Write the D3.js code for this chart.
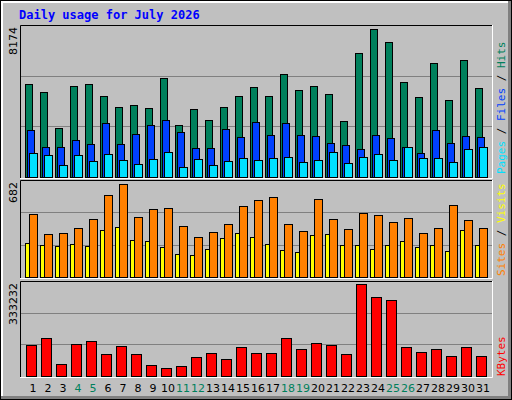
<!DOCTYPE html>
<html><head><meta charset="utf-8">
<script src="https://cdn.jsdelivr.net/npm/d3@7"></script>
<style>body{margin:0;background:#fff}svg{display:block}</style>
</head><body><svg id="c" width="512" height="400"></svg>
<script>
const days = d3.range(1, 32);
const weekends = [4,5,11,12,18,19,25,26];
const hits = [5018,4585,2636,4910,5018,4368,3773,3881,3719,5343,2799,3665,3069,3773,4368,4856,4368,5559,4693,4910,4477,3015,6642,7941,7237,5126,4314,6155,4152,6317,4801];
const files = [2528,1608,1608,1987,1770,2907,1770,2311,2799,3069,2420,1554,1554,2582,2149,2961,2257,2907,2257,2203,1824,1716,1499,2257,2095,1608,1283,2528,1824,2203,2149];
const pages = [1283,1175,633,1175,850,1229,904,687,958,1337,525,958,633,850,1012,904,1012,1066,796,904,1337,742,1066,1229,904,1608,1012,1012,796,1499,1608];
const visits = [441,300,307,342,406,574,652,420,476,483,356,279,314,371,497,539,560,371,321,546,406,335,448,434,385,413,307,342,504,399,342];
const sites = [237,223,216,230,216,328,349,258,251,209,160,153,195,272,307,279,230,188,174,293,300,223,223,195,223,251,209,223,181,328,223];
const kbytes = [107700,132250,41040,111200,121700,76120,104190,76120,37540,27010,34030,65600,79630,58580,100680,79630,79630,132250,93660,114710,107700,76120,321680,276080,265550,100680,83140,93660,69110,100680,69110];
const maxHits = 8174, maxVisits = 682, maxKB = 333232;

const svg = d3.select("#c");
// frame
svg.append("rect").attr("x",0).attr("y",0).attr("width",512).attr("height",400).attr("fill","#000");
svg.append("rect").attr("x",1).attr("y",1).attr("width",510).attr("height",398).attr("fill","#808080");
svg.append("rect").attr("x",1).attr("y",1).attr("width",507).attr("height",395).attr("fill","#fff");
svg.append("rect").attr("x",3).attr("y",3).attr("width",505).attr("height",393).attr("fill","#c0c0c0");

svg.append("text").attr("x",19).attr("y",19).text("Daily usage for July 2026")
  .attr("font-family","DejaVu Sans Mono").attr("font-weight","bold").attr("font-size",12).attr("fill","#0000ff");

const x = d3.scaleBand().domain(days).range([22,487]).padding(0);
const panels = [
  {y0:25,y1:177,max:maxHits,label:"8174"},
  {y0:180,y1:277,max:maxVisits,label:"682"},
  {y0:281,y1:376,max:maxKB,label:"333232"}
];
panels.forEach(p=>{
  svg.append("rect").attr("x",20).attr("y",p.y0).attr("width",472).attr("height",p.y1-p.y0+1).attr("fill","#c0c0c0");
  const y = d3.scaleLinear().domain([0,p.max]).range([p.y1,p.y0]);
  p.y = y;
  [1/3,2/3].forEach(f=>svg.append("line").attr("x1",20).attr("x2",492)
    .attr("y1",Math.round(y(p.max*f))+0.5).attr("y2",Math.round(y(p.max*f))+0.5).attr("stroke","#808080"));
  svg.append("path").attr("d",`M20.5,${p.y1+1}V${p.y0+0.5}H492`).attr("stroke","#000").attr("fill","none");
  svg.append("path").attr("d",`M492.5,${p.y0}V${p.y1+1.5}H20`).attr("stroke","#fff").attr("fill","none");
  svg.append("text").attr("transform",`translate(17,${p.y0+2}) rotate(-90)`).attr("text-anchor","end")
    .attr("font-family","DejaVu Sans").attr("font-size",11).attr("fill","#000").text(p.label);
});

function bars(data, p, off, w, color){
  svg.append("g").selectAll("rect").data(data).join("rect")
    .attr("x",(d,i)=>x(days[i])+off+0.5).attr("width",w)
    .attr("y",d=>Math.round(p.y(d))+0.5).attr("height",d=>p.y1-Math.round(p.y(d)))
    .attr("fill",color).attr("stroke","#000").attr("stroke-width",1);
}
bars(hits, panels[0], 3, 7, "#00805c");
bars(files, panels[0], 5, 7, "#0040ff");
bars(pages, panels[0], 7, 8, "#00e0ff");
bars(sites, panels[1], 3, 4, "#ffff00");
bars(visits, panels[1], 7, 8, "#ff8000");
bars(kbytes, panels[2], 4, 10, "#ff0000");

svg.append("g").selectAll("text").data(days).join("text")
  .attr("x",d=>x(d)+11).attr("y",392).attr("text-anchor","middle")
  .attr("font-family","DejaVu Sans").attr("font-size",11)
  .attr("fill",d=>weekends.includes(d)?"#00805c":"#000").text(d=>d);

function sideLabel(yBottom, parts){
  const t = svg.append("text").attr("transform",`translate(505,${yBottom}) rotate(-90)`)
    .attr("font-family","DejaVu Sans Mono").attr("font-size",11);
  parts.forEach(([s,c])=>t.append("tspan").attr("fill",c).text(s));
}
sideLabel(174, [["Pages","#00e0ff"],[" / ","#000"],["Files","#0040ff"],[" / ","#000"],["Hits","#00805c"]]);
sideLabel(276, [["Sites","#ff8000"],[" / ","#000"],["Visits","#ffff00"]]);
sideLabel(376, [["KBytes","#ff0000"]]);
</script></body></html>
